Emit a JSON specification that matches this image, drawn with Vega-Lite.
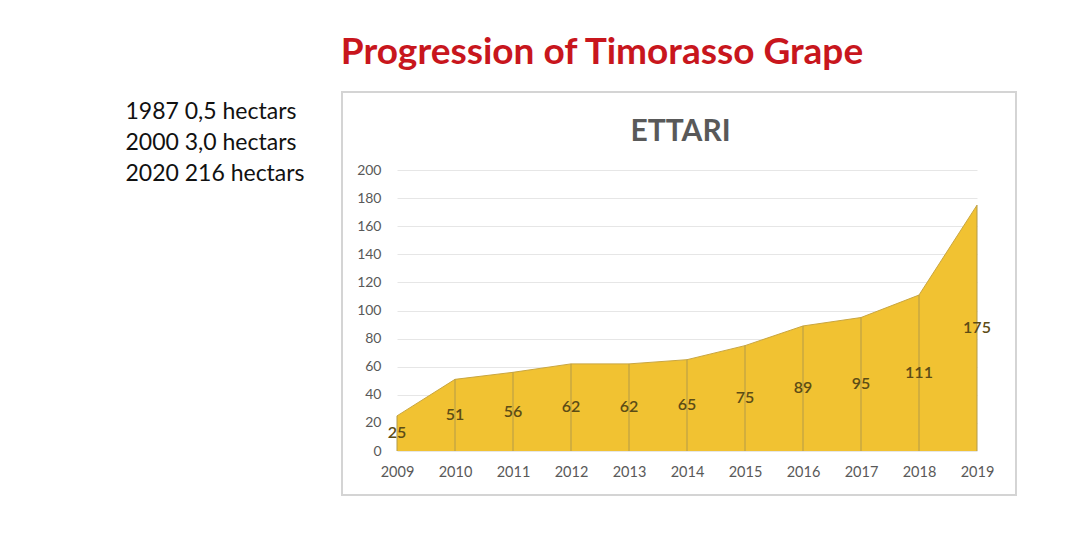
{
  "$schema": "https://vega.github.io/schema/vega-lite/v6.json",
  "autosize": "none",
  "width": 580,
  "height": 281,
  "padding": {"left": 397, "top": 170, "right": 103, "bottom": 93},
  "background": "white",
  "config": {"view": {"stroke": null}, "font": "Lato"},
  "title": {
    "text": "Progression of Timorasso Grape",
    "font": "Lato",
    "fontSize": 37,
    "fontWeight": "bold",
    "color": "#C8161D",
    "anchor": "middle",
    "frame": "group",
    "dx": -85,
    "offset": 19
  },
  "data": {
    "values": [
      {"year": 2009, "value": 25},
      {"year": 2010, "value": 51},
      {"year": 2011, "value": 56},
      {"year": 2012, "value": 62},
      {"year": 2013, "value": 62},
      {"year": 2014, "value": 65},
      {"year": 2015, "value": 75},
      {"year": 2016, "value": 89},
      {"year": 2017, "value": 95},
      {"year": 2018, "value": 111},
      {"year": 2019, "value": 175}
    ]
  },
  "layer": [
    {
      "layer": [
        {
          "mark": {"type": "area", "color": "#F1C232", "opacity": 1, "line": {"color": "#c9a640", "strokeWidth": 1}},
          "encoding": {
            "x": {
              "field": "year",
              "type": "quantitative",
              "scale": {"domain": [2009, 2019], "nice": false, "zero": false},
              "axis": {
                "values": [2009, 2010, 2011, 2012, 2013, 2014, 2015, 2016, 2017, 2018, 2019],
                "tickCount": 11,
                "format": "d",
                "title": null,
                "domain": false,
                "ticks": false,
                "grid": false,
                "labelFlush": false,
                "labelOverlap": false,
                "labelPadding": 14,
                "labelFontSize": 14.5,
                "labelColor": "#595959",
                "labelFont": "Lato"
              }
            },
            "y": {
              "field": "value",
              "type": "quantitative",
              "scale": {"domain": [0, 200], "nice": false},
              "axis": {
                "values": [0, 20, 40, 60, 80, 100, 120, 140, 160, 180, 200],
                "tickCount": 11,
                "domain": false,
                "ticks": false,
                "grid": true,
                "gridColor": "#e6e6e6",
                "gridWidth": 1,
                "labelFlush": false,
                "labelOverlap": false,
                "labelPadding": 16,
                "labelFontSize": 14,
                "labelColor": "#595959",
                "labelFont": "Lato",
                "title": ["1987 0,5 hectars", "2000 3,0 hectars", "2020 216 hectars"],
                "titleAngle": 0,
                "titleAlign": "left",
                "titleBaseline": "top",
                "titleX": -272,
                "titleY": -70,
                "titleLineHeight": 31,
                "titleFontSize": 23,
                "titleFont": "Lato",
                "titleFontWeight": "normal",
                "titleColor": "#111111"
              }
            }
          }
        },
        {
          "mark": {"type": "rect", "fill": null, "stroke": "#d4d4d4", "strokeWidth": 1.5},
          "encoding": {
            "x": {"datum": 2008.05, "type": "quantitative", "scale": {"domain": [2009, 2019], "nice": false, "zero": false}},
            "x2": {"datum": 2019.67},
            "y": {"datum": -31.3, "type": "quantitative", "scale": {"domain": [0, 200], "nice": false}},
            "y2": {"datum": 255.5}
          }
        },
        {
          "mark": {"type": "rule", "color": "#b39a48", "strokeWidth": 1},
          "encoding": {
            "x": {"field": "year", "type": "quantitative", "scale": {"domain": [2009, 2019], "nice": false, "zero": false}},
            "y": {"field": "value", "type": "quantitative", "scale": {"domain": [0, 200], "nice": false}},
            "y2": {"datum": 0}
          }
        }
      ]
    },
    {
      "mark": {"type": "text", "fontSize": 16, "font": "Lato", "fontWeight": 600, "color": "#5c4c16", "baseline": "middle"},
      "encoding": {
        "x": {"field": "year", "type": "quantitative", "scale": {"domain": [2009, 2019], "nice": false, "zero": false}},
        "y": {
          "field": "value",
          "type": "quantitative",
          "scale": {"domain": [0, 400], "nice": false},
          "axis": {
            "orient": "right",
            "labels": false,
            "ticks": false,
            "domain": false,
            "grid": false,
            "title": "ETTARI",
            "titleAngle": 0,
            "titleAlign": "center",
            "titleBaseline": "alphabetic",
            "titleX": -297,
            "titleY": -30,
            "titleFontSize": 30,
            "titleFont": "Lato",
            "titleFontWeight": "bold",
            "titleColor": "#595959"
          }
        },
        "text": {"field": "value", "type": "quantitative"}
      }
    }
  ],
  "resolve": {"scale": {"y": "independent"}, "axis": {"y": "independent"}}
}
